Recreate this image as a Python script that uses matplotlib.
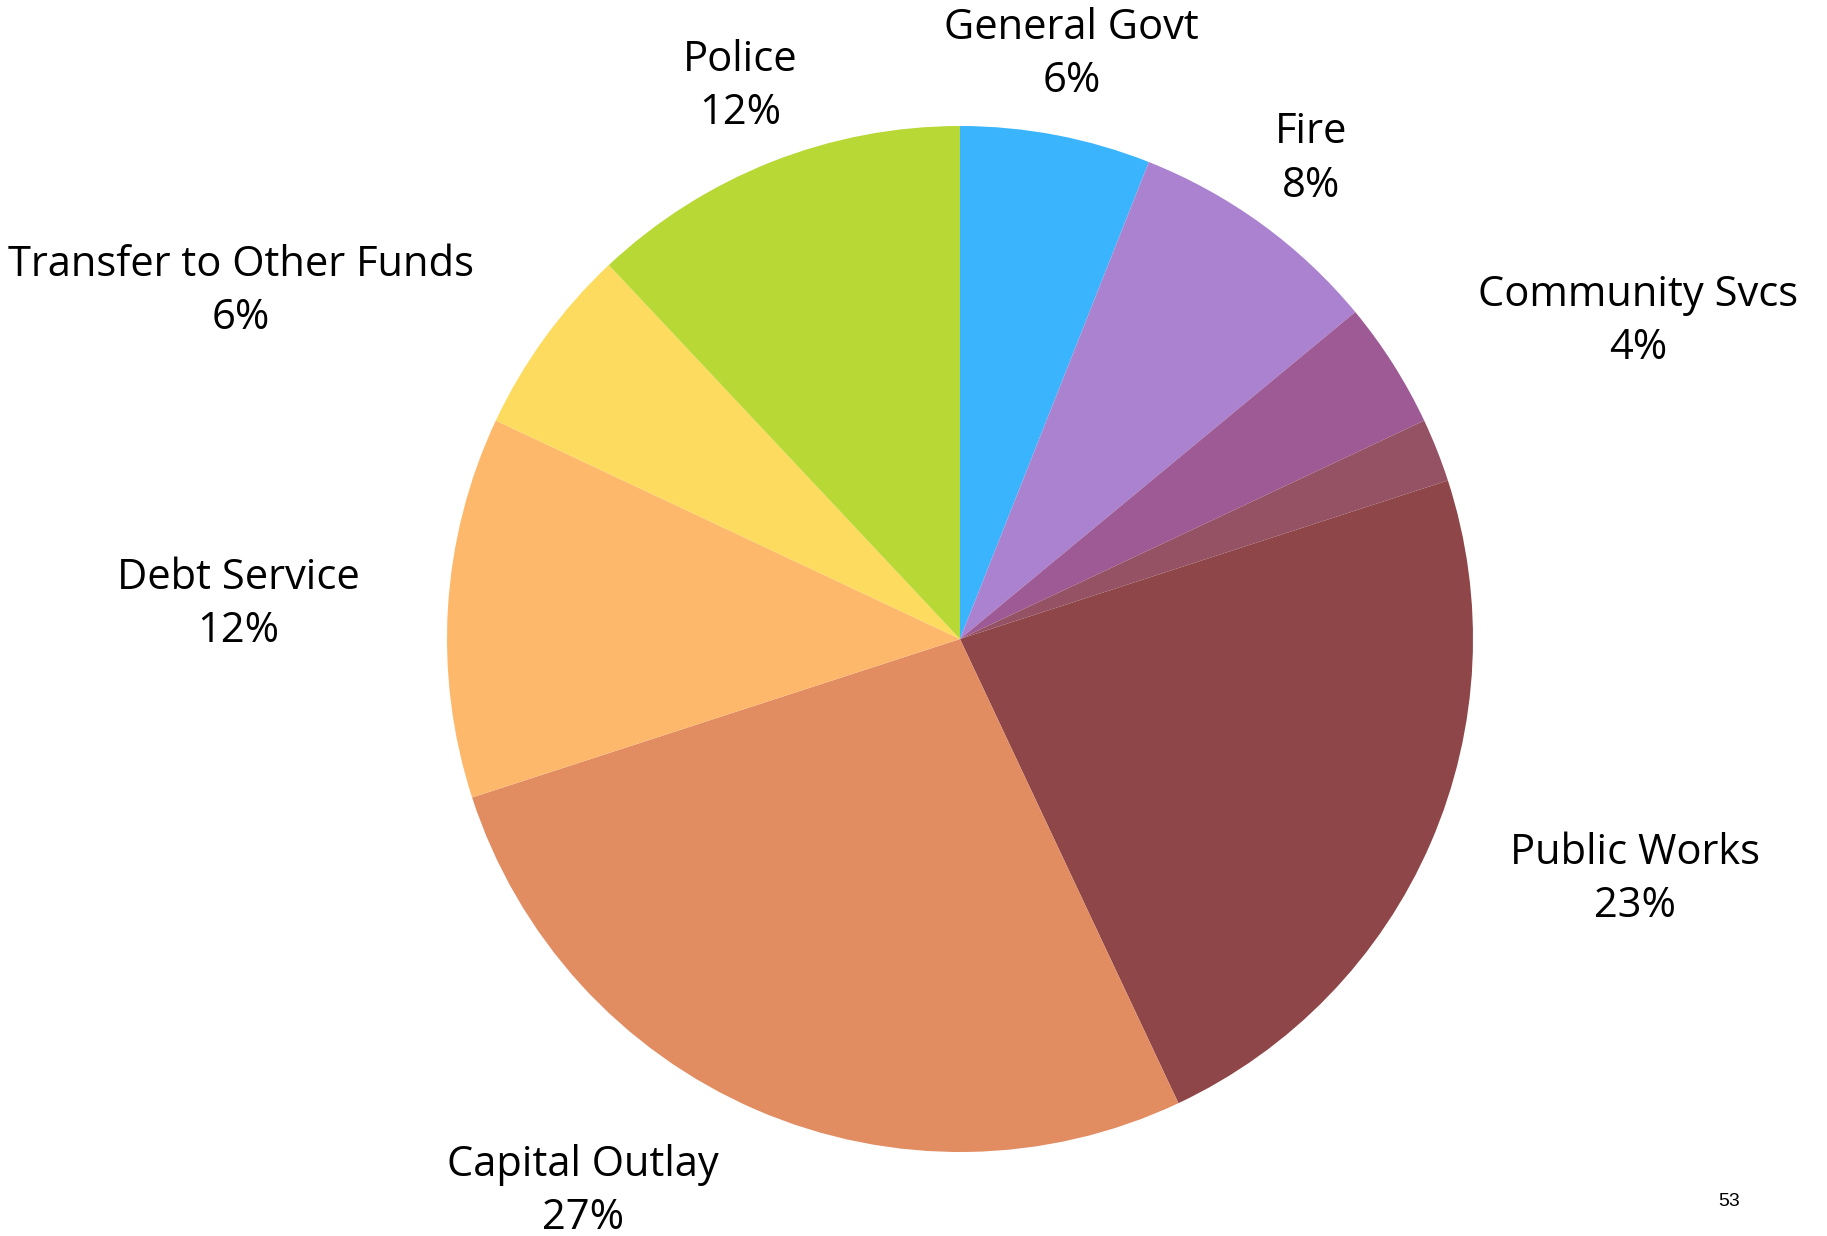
import matplotlib.pyplot as plt

plt.rcParams['font.family'] = ['Open Sans', 'DejaVu Sans']

# Budget share by department, clockwise from the top
departments = ['General Govt', 'Fire', 'Community Svcs', '', 'Public Works',
               'Capital Outlay', 'Debt Service', 'Transfer to Other Funds', 'Police']
shares = [6, 8, 4, 2, 23, 27, 12, 6, 12]
colors = ['#3BB4FE', '#AB82CF', '#9E5A94', '#955264', '#8E4648',
          '#E28C62', '#FDB86C', '#FDDB5E', '#B8D836']

# Label anchor points in pie-radius units (blank entry = no label)
label_xy = [(0.218, 1.139), (0.684, 0.936), (1.322, 0.619), None, (1.316, -0.469),
            (-0.735, -1.077), (-1.407, 0.067), (-1.402, 0.677), (-0.429, 1.077)]

W, H = 1827, 1236
cx, cy, r = 960, 639, 513

fig = plt.figure(figsize=(W / 100, H / 100), dpi=100)
fig.patch.set_facecolor('white')
ax = fig.add_axes([(cx - r) / W, (H - cy - r) / H, 2 * r / W, 2 * r / H])

ax.pie(shares, colors=colors, startangle=90, counterclock=False, radius=1,
       wedgeprops=dict(linewidth=0))
ax.set_xlim(-1, 1)
ax.set_ylim(-1, 1)
ax.set_aspect('equal')
ax.axis('off')

for name, val, xy in zip(departments, shares, label_xy):
    if xy is None:
        continue
    ax.text(xy[0], xy[1], f'{name}\n{val}%', ha='center', va='center',
            fontsize=30, color='black', linespacing=1.36, clip_on=False)

fig.text(1729 / W, 1 - 1201 / H, '53', ha='center', va='center',
         fontsize=14, family='Liberation Sans', color='black')

fig.savefig('out.png', dpi=100, facecolor='white')
